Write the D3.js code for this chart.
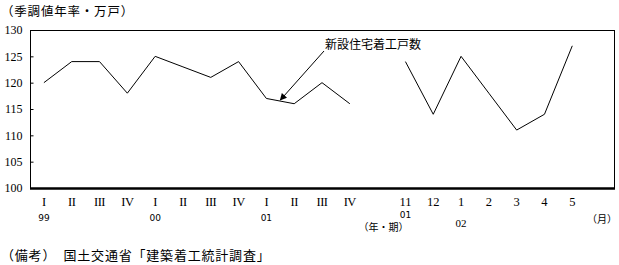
<!DOCTYPE html>
<html lang="ja">
<head>
<meta charset="UTF-8">
<script src="https://cdn.jsdelivr.net/npm/d3@7"></script>
<style>
  body { margin: 0; background: #fff; }
  text { fill: #000; }
</style>
</head>
<body>
<div id="viz"></div>
<script>
// quarters 99 I .. 01 IV, then months 01/11 .. 02/5
const quarterLabels = ["I", "II", "III", "IV", "I", "II", "III", "IV", "I", "II", "III", "IV"];
const quarterValues = [120, 124, 124, 118, 125, 123, 121, 124, 117, 116, 120, 116];
const monthLabels = ["11", "12", "1", "2", "3", "4", "5"];
const monthValues = [124, 114, 125, 118, 111, 114, 127];
const yearLabels = [{ slot: 0, text: "99" }, { slot: 4, text: "00" }, { slot: 8, text: "01" }];
const yTicks = [100, 105, 110, 115, 120, 125, 130];

const W = 619, H = 265;
const plotL = 30, plotR = 614, plotT = 30, plotB = 188;
const jp = "'Noto Sans CJK JP', sans-serif";
const serif = "'Liberation Serif', serif";

const svg = d3.select("#viz").append("svg")
    .attr("width", W).attr("height", H);

// 12 quarter slots, 1 empty, 7 month slots, 1 slot for "(月)"
const nSlots = quarterLabels.length + 1 + monthLabels.length + 1;
const x = d3.scaleBand().domain(d3.range(nSlots)).range([plotL, plotR]);
const cx = i => x(i) + x.bandwidth() / 2;
const monthStart = quarterLabels.length + 1;

const y = d3.scaleLinear().domain([100, 130]).range([plotB, plotT]);

// frame
svg.append("rect")
    .attr("x", plotL + 0.5).attr("y", plotT + 0.5)
    .attr("width", plotR - plotL).attr("height", plotB - plotT)
    .attr("fill", "none").attr("stroke", "#000").attr("stroke-width", 1);

// y axis, ticks inward
const yAxis = svg.append("g")
    .attr("transform", `translate(${plotL + 0.5},0)`)
    .call(d3.axisLeft(y).tickValues(yTicks).tickSize(-3).tickPadding(8));
yAxis.select(".domain").remove();
yAxis.selectAll("line").attr("stroke", "#000");
yAxis.selectAll("text")
    .attr("font-family", serif)
    .attr("font-size", 12);

// thick baseline
svg.append("line")
    .attr("x1", plotL).attr("x2", plotR + 1)
    .attr("y1", plotB + 0.5).attr("y2", plotB + 0.5)
    .attr("stroke", "#000").attr("stroke-width", 2.5);

// lines
const line = d3.line().x(d => cx(d[0])).y(d => y(d[1]));
svg.append("path")
    .datum(quarterValues.map((v, i) => [i, v]))
    .attr("d", line).attr("fill", "none").attr("stroke", "#000").attr("stroke-width", 1);
svg.append("path")
    .datum(monthValues.map((v, i) => [monthStart + i, v]))
    .attr("d", line).attr("fill", "none").attr("stroke", "#000").attr("stroke-width", 1);

// x labels
svg.selectAll(".ql").data(quarterLabels).join("text")
    .attr("x", (d, i) => cx(i)).attr("y", 206)
    .attr("text-anchor", "middle")
    .attr("font-family", serif).attr("font-size", 12.5)
    .attr("letter-spacing", -0.5)
    .text(d => d);
svg.selectAll(".ml").data(monthLabels).join("text")
    .attr("x", (d, i) => cx(monthStart + i)).attr("y", 206)
    .attr("text-anchor", "middle")
    .attr("font-family", serif).attr("font-size", 12.5)
    .text(d => d);
svg.selectAll(".yl").data(yearLabels).join("text")
    .attr("x", d => cx(d.slot)).attr("y", 221)
    .attr("text-anchor", "middle")
    .attr("font-family", "'DejaVu Sans', sans-serif").attr("font-size", 9)
    .text(d => d.text);
svg.append("text")
    .attr("x", cx(monthStart)).attr("y", 218)
    .attr("text-anchor", "middle")
    .attr("font-family", "'DejaVu Sans', sans-serif").attr("font-size", 9)
    .text("01");
svg.append("text")
    .attr("x", cx(monthStart + 2)).attr("y", 227)
    .attr("text-anchor", "middle")
    .attr("font-family", serif).attr("font-size", 11)
    .text("02");
svg.append("text")
    .attr("x", cx(monthStart) - 22).attr("y", 231)
    .attr("text-anchor", "middle")
    .attr("font-family", jp).attr("font-size", 10)
    .text("（年・期）");
svg.append("text")
    .attr("x", cx(nSlots - 1) + 2).attr("y", 223)
    .attr("text-anchor", "middle")
    .attr("font-family", jp).attr("font-size", 10)
    .text("（月）");

// titles
svg.append("text")
    .attr("x", 1).attr("y", 16)
    .attr("font-family", jp).attr("font-size", 12.5)
    .attr("letter-spacing", 0.8)
    .text("（季調値年率・万戸）");
svg.append("text")
    .attr("x", 1).attr("y", 260)
    .attr("font-family", jp).attr("font-size", 13)
    .attr("letter-spacing", 0.8)
    .text("（備考）　国土交通省「建築着工統計調査」");

// annotation with arrow
svg.append("defs").append("marker")
    .attr("id", "arr").attr("viewBox", "0 0 10 10")
    .attr("refX", 9).attr("refY", 5)
    .attr("markerWidth", 9).attr("markerHeight", 7)
    .attr("orient", "auto")
    .append("path").attr("d", "M0,0L10,5L0,10z").attr("fill", "#000");
const tip = [(cx(8) + cx(9)) / 2, y((quarterValues[8] + quarterValues[9]) / 2) - 1];
svg.append("line")
    .attr("x1", 324).attr("y1", 51)
    .attr("x2", tip[0]).attr("y2", tip[1])
    .attr("stroke", "#000").attr("stroke-width", 1)
    .attr("marker-end", "url(#arr)");
svg.append("text")
    .attr("x", 325).attr("y", 49)
    .attr("font-family", jp).attr("font-size", 12)
    .text("新設住宅着工戸数");
</script>
</body>
</html>
